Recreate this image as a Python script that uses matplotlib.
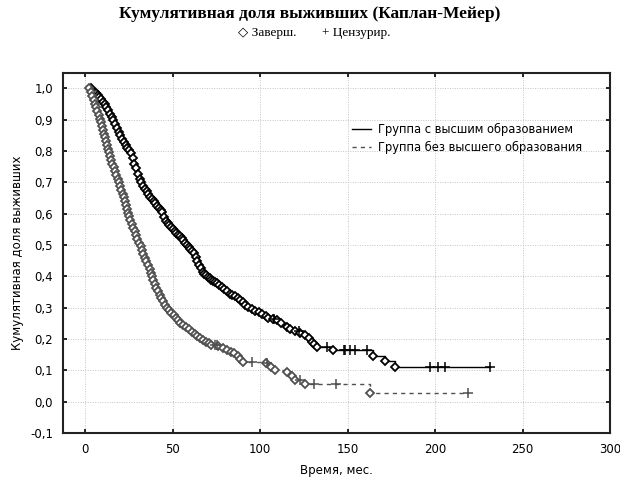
import matplotlib
matplotlib.use("Agg")
import matplotlib.pyplot as plt
from matplotlib.ticker import FuncFormatter, MultipleLocator

# Group with higher education: event times (months) and survival after each event
hi_time = [3, 4, 5, 6, 7, 8, 9, 10, 11, 12, 13, 14, 15, 16, 17, 18, 19, 20,
           21, 22, 23, 24, 25, 26, 27, 28, 29, 30, 31, 32, 33, 34, 35, 36, 37,
           38, 39, 40, 41, 42, 43, 44, 45, 46, 47, 48, 49, 50, 51, 52, 53, 54,
           55, 56, 57, 58, 59, 60, 61, 62, 63, 64, 65, 66, 67, 68, 69, 70, 71,
           72, 73, 74, 75, 76.5, 78, 79.5, 81, 82.5, 84, 85.5, 87, 88.5, 90,
           91.5, 93, 95, 97, 99, 101, 103, 104.7, 107, 109.5, 112, 115, 117,
           120, 123, 125.7, 128, 129.5, 131, 132.4, 141.7, 164.4, 171.4, 177]
hi_surv = [1.000, 0.995, 0.990, 0.985, 0.978, 0.972, 0.966, 0.958, 0.950,
           0.940, 0.930, 0.920, 0.910, 0.900, 0.888, 0.875, 0.862, 0.850,
           0.840, 0.830, 0.820, 0.810, 0.802, 0.795, 0.778, 0.760, 0.745,
           0.728, 0.712, 0.700, 0.690, 0.680, 0.672, 0.663, 0.655, 0.646,
           0.640, 0.633, 0.626, 0.619, 0.612, 0.605, 0.590, 0.578, 0.571,
           0.564, 0.557, 0.550, 0.544, 0.538, 0.532, 0.528, 0.522, 0.516,
           0.508, 0.500, 0.494, 0.488, 0.481, 0.474, 0.462, 0.450, 0.438,
           0.426, 0.414, 0.408, 0.403, 0.398, 0.394, 0.390, 0.386, 0.383,
           0.379, 0.373, 0.367, 0.360, 0.353, 0.345, 0.340, 0.336, 0.331,
           0.326, 0.318, 0.310, 0.302, 0.296, 0.291, 0.286, 0.281, 0.274,
           0.268, 0.265, 0.260, 0.250, 0.238, 0.232, 0.225, 0.219, 0.212,
           0.202, 0.192, 0.184, 0.176, 0.164, 0.147, 0.131, 0.112]
hi_cens_time = [108, 122, 138, 147.6, 148.6, 151.4, 154.3, 161,
                196.8, 201.9, 205.7, 231.4]

# Group without higher education
lo_time = [2, 3, 4, 4.7, 5.4, 6.1, 6.9, 7.6, 8.4, 9.1, 9.7, 10.2, 10.8, 11.3,
           11.9, 12.4, 12.9, 13.5, 14.1, 14.8, 15.4, 16.1, 16.9, 17.7, 18.6,
           19.3, 19.9, 20.6, 21.3, 22.0, 22.6, 23.1, 23.7, 24.4, 25.1, 25.8,
           26.6, 27.4, 28.2, 29.0, 29.8, 30.7, 31.6, 32.4, 33.2, 34.0, 34.9,
           35.8, 36.7, 37.4, 38.1, 38.9, 39.7, 40.5, 41.4, 42.5, 43.5, 44.6,
           45.7, 46.9, 48.0, 49.2, 50.4, 51.7, 53.0, 54.3, 56.0, 57.7, 59.4,
           61.0, 62.6, 64.0, 65.5, 67.0, 68.8, 70.5, 72.0, 76.0, 78.5, 81.0,
           83.0, 85.0, 87.0, 88.5, 90.0, 103.0, 106.0, 108.6, 115.0, 118.0,
           120.0, 125.7, 163.0]
lo_surv = [1.000, 0.988, 0.976, 0.964, 0.952, 0.940, 0.928, 0.916, 0.904,
           0.892, 0.880, 0.868, 0.856, 0.844, 0.832, 0.820, 0.808, 0.796,
           0.784, 0.772, 0.760, 0.748, 0.736, 0.724, 0.712, 0.700, 0.688,
           0.676, 0.664, 0.652, 0.640, 0.628, 0.616, 0.604, 0.592, 0.580,
           0.568, 0.556, 0.544, 0.532, 0.520, 0.508, 0.496, 0.484, 0.472,
           0.460, 0.448, 0.436, 0.424, 0.412, 0.400, 0.388, 0.376, 0.364,
           0.352, 0.340, 0.330, 0.320, 0.310, 0.300, 0.292, 0.284, 0.276,
           0.268, 0.260, 0.252, 0.245, 0.238, 0.231, 0.224, 0.217, 0.210,
           0.203, 0.197, 0.192, 0.186, 0.180, 0.177, 0.172, 0.166, 0.160,
           0.156, 0.145, 0.136, 0.128, 0.123, 0.112, 0.100, 0.094, 0.082,
           0.070, 0.057, 0.027]
lo_cens_time = [74, 75.5, 95.2, 104, 123, 130.5, 143.4, 219]

legend_labels = ["Группа с высшим образованием", "Группа без высшего образования"]


def surv_at(times, survs, t):
    # survival value of the KM step function at time t
    s = 1.0
    for ti, si in zip(times, survs):
        if ti <= t:
            s = si
    return s


def step_line(times, survs, cens):
    pts = [(t, s) for t, s in zip(times, survs)]
    pts += [(t, surv_at(times, survs, t)) for t in cens]
    pts.sort()
    return [p[0] for p in pts], [p[1] for p in pts]


fig = plt.figure(figsize=(6.2, 4.79), dpi=100)
ax = fig.add_axes([0.101, 0.096, 0.883, 0.752])

groups = [
    (hi_time, hi_surv, hi_cens_time, "black", "-", legend_labels[0]),
    (lo_time, lo_surv, lo_cens_time, "#505050", "--", legend_labels[1]),
]

for times, survs, cens, color, ls, label in groups:
    lx, ly = step_line(times, survs, cens)
    ax.plot(lx, ly, drawstyle="steps-post", color=color, linestyle=ls,
            linewidth=1.0, label=label, zorder=2,
            dashes=(3, 3) if ls == "--" else (None, None))
    ax.plot(times, survs, linestyle="none", marker="D", markersize=3.8,
            markerfacecolor="white", markeredgecolor=color,
            markeredgewidth=1.3, zorder=3)
    cy = [surv_at(times, survs, t) for t in cens]
    ax.plot(cens, cy, linestyle="none", marker="+", markersize=7,
            markeredgewidth=1.1, color=color, zorder=4)

ax.set_xlim(-13, 300)
ax.set_ylim(-0.1, 1.05)
ax.xaxis.set_major_locator(MultipleLocator(50))
ax.yaxis.set_major_locator(MultipleLocator(0.1))
ax.yaxis.set_major_formatter(FuncFormatter(lambda v, p: f"{v:.1f}".replace(".", ",")))
ax.grid(True, color="#c4c4c4", linestyle=(0, (1, 1.5)), linewidth=0.7)
ax.set_axisbelow(True)
ax.tick_params(direction="in", length=3, width=1.2, top=True, right=True,
               labelsize=8.5, colors="black", pad=7)
for sp in ax.spines.values():
    sp.set_linewidth(1.5)
    sp.set_color("#222222")

ax.set_xlabel("Время, мес.", fontsize=8.5, labelpad=6)
ax.set_ylabel("Кумулятивная доля выживших", fontsize=8.5, labelpad=4)

leg = ax.legend(loc="upper left", bbox_to_anchor=(0.51, 0.89), frameon=False,
                fontsize=8.3, handlelength=1.6, handletextpad=0.6,
                labelspacing=0.4)

fig.text(0.5, 0.971, "Кумулятивная доля выживших (Каплан-Мейер)",
         ha="center", va="center", fontsize=12.5, fontweight="bold",
         family=["Liberation Serif", "DejaVu Serif"])
fig.text(0.479, 0.931, "◇ Заверш.", ha="right", va="center", fontsize=9.5,
         family=["Liberation Serif", "DejaVu Serif"])
fig.text(0.519, 0.931, "+ Цензурир.", ha="left", va="center", fontsize=9.5,
         family=["Liberation Serif", "DejaVu Serif"])

fig.savefig("out.png", dpi=100)
